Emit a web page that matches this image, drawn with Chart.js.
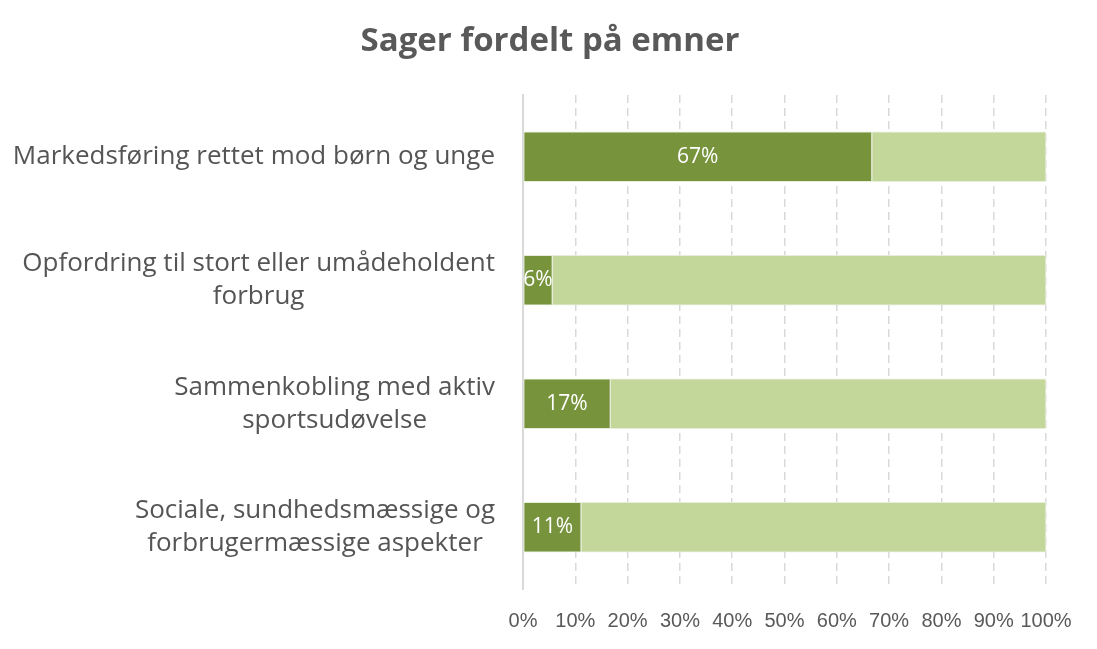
<!DOCTYPE html>
<html>
<head>
<meta charset="utf-8">
<script src="https://cdn.jsdelivr.net/npm/chart.js@4"></script>
<style>
  html, body { margin: 0; padding: 0; background: #fff; }
  #wrap { width: 1097px; height: 649px; }
</style>
</head>
<body>
<div id="wrap"><canvas id="chart"></canvas></div>
<script>
// categories (lines as they wrap in the original)
const categories = [
  ['Markedsføring rettet mod børn og unge'],
  ['Opfordring til stort eller umådeholdent', 'forbrug'],
  ['Sammenkobling med aktiv', 'sportsudøvelse'],
  ['Sociale, sundhedsmæssige og', 'forbrugermæssige aspekter']
];
// share of cases per topic (%) and the remaining part of the 100% bar
const shareValues = [66.7, 5.6, 16.7, 11.1];
const restValues = [33.3, 94.4, 83.3, 88.9];
const xTicks = [0, 10, 20, 30, 40, 50, 60, 70, 80, 90, 100];
const titleText = 'Sager fordelt på emner';

const labelFont = '26px "Open Sans", "Liberation Sans", sans-serif';

// title centred on the whole picture
const pageTitle = {
  id: 'pageTitle',
  afterDraw(chart) {
    const ctx = chart.ctx;
    ctx.save();
    ctx.font = 'bold 33px "Open Sans", "Liberation Sans", sans-serif';
    ctx.fillStyle = '#595959';
    ctx.textAlign = 'center';
    ctx.textBaseline = 'middle';
    ctx.fillText(titleText, 550, 42);
    ctx.restore();
  }
};

// centred multi-line category labels, right-aligned as a block
const catLabels = {
  id: 'catLabels',
  afterDraw(chart) {
    const ctx = chart.ctx;
    const y = chart.scales.y;
    ctx.save();
    ctx.font = labelFont;
    ctx.fillStyle = '#555555';
    ctx.textAlign = 'center';
    ctx.textBaseline = 'middle';
    const right = chart.chartArea.left - 28;
    categories.forEach((lines, i) => {
      const w = Math.max(...lines.map(l => ctx.measureText(l).width));
      const cx = right - w / 2;
      const cy = y.getPixelForValue(i);
      const lh = 33;
      lines.forEach((l, j) => {
        ctx.fillText(l, cx, cy + (j - (lines.length - 1) / 2) * lh);
      });
    });
    ctx.restore();
  }
};

// value labels inside the dark segments
const valueLabels = {
  id: 'valueLabels',
  afterDatasetsDraw(chart) {
    const ctx = chart.ctx;
    const meta = chart.getDatasetMeta(0);
    ctx.save();
    ctx.font = '21px "Open Sans", "Liberation Sans", sans-serif';
    ctx.fillStyle = '#ffffff';
    ctx.textAlign = 'center';
    ctx.textBaseline = 'middle';
    meta.data.forEach((bar, i) => {
      const cx = (bar.base + bar.x) / 2;
      ctx.fillText(Math.round(shareValues[i]) + '%', cx, bar.y);
    });
    ctx.restore();
  }
};

new Chart(document.getElementById('chart'), {
  type: 'bar',
  data: {
    labels: categories.map(c => c.join(' ')),
    datasets: [
      { data: shareValues, backgroundColor: '#77933C', borderColor: '#E8EEDC', borderWidth: 1, borderSkipped: false, barThickness: 50 },
      { data: restValues, backgroundColor: '#C4D79B', borderColor: '#E8EEDC', borderWidth: 1, borderSkipped: false, barThickness: 50 }
    ]
  },
  options: {
    indexAxis: 'y',
    responsive: true,
    maintainAspectRatio: false,
    animation: false,
    layout: { padding: { top: 95, right: 51, bottom: -4, left: 0 } },
    plugins: {
      legend: { display: false },
      tooltip: { enabled: false },
      title: { display: false }
    },
    scales: {
      x: {
        stacked: true,
        min: 0,
        max: 100,
        afterBuildTicks(scale) { scale.ticks = xTicks.map(v => ({ value: v })); },
        ticks: {
          callback: v => v + '%',
          color: '#595959',
          font: { family: '"Liberation Sans", Arial, sans-serif', size: 20 },
          padding: 20,
          maxRotation: 0,
          autoSkip: false
        },
        grid: { color: '#D9D9D9', lineWidth: 1.5, drawTicks: false },
        border: { display: false, dash: [8, 5] }
      },
      y: {
        stacked: true,
        afterFit(scale) { scale.width = 523; },
        ticks: { display: false },
        grid: { display: false, drawTicks: false },
        border: { display: true, color: '#D9D9D9', width: 2 }
      }
    }
  },
  plugins: [catLabels, valueLabels, pageTitle]
});
</script>
</body>
</html>
